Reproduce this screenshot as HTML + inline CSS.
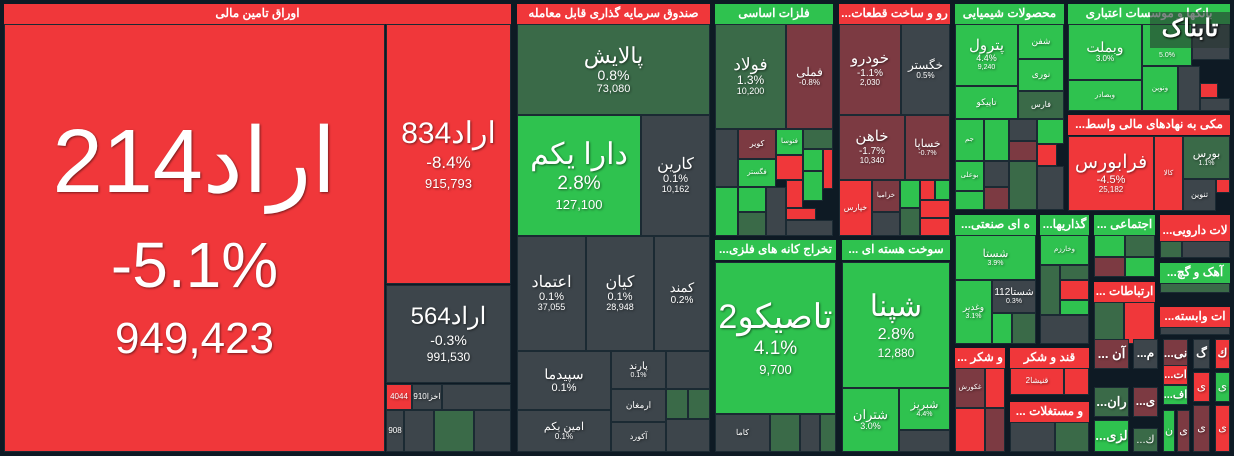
<!DOCTYPE html>
<html><head><meta charset="utf-8"><style>
body{margin:0;width:1234px;height:456px;background:#0e1a24;overflow:hidden;position:relative;font-family:"Liberation Sans","Noto Sans CJK SC",sans-serif}
.t{position:absolute;box-sizing:border-box;border:1px solid #1b2a33;color:#fff;text-align:center;overflow:hidden;display:flex;flex-direction:column;justify-content:center;align-items:center;text-shadow:1px 1px 2px rgba(0,0,0,.5);line-height:1.1}
.h{position:absolute;box-sizing:border-box;color:#fff;font-weight:bold;font-size:12px;text-align:center;line-height:19px;height:20px;white-space:nowrap;overflow:hidden}
.R{background:#f0373a}.G{background:#2fc24f}.D{background:#3a6a48}.K{background:#3d454b}.M{background:#7c3a42}.L{background:#3fa055}
</style></head><body>
<!-- block 1 -->
<div class="h R" style="left:4px;top:4px;width:507px">اوراق تامین مالی</div>
<div class="t R" style="left:4px;top:24px;width:381px;height:428px"><div style="font-size:90px">اراد214</div><div style="font-size:64px;margin-top:18px">-5.1%</div><div style="font-size:44px;margin-top:14px">949,423</div></div>
<div class="t R" style="left:386px;top:24px;width:125px;height:260px"><div style="font-size:30px">اراد834</div><div style="font-size:17px;margin-top:4px">-8.4%</div><div style="font-size:13px;margin-top:4px">915,793</div></div>
<div class="t K" style="left:386px;top:285px;width:125px;height:98px"><div style="font-size:24px">اراد564</div><div style="font-size:14px;margin-top:3px">-0.3%</div><div style="font-size:12px;margin-top:3px">991,530</div></div>
<div class="t R" style="left:386px;top:384px;width:26px;height:26px;font-size:8px">4044</div>
<div class="t K" style="left:412px;top:384px;width:30px;height:26px;font-size:8px">اخزا910</div>
<div class="t K" style="left:442px;top:384px;width:69px;height:26px"></div>
<div class="t K" style="left:386px;top:410px;width:18px;height:42px;font-size:8px">908</div>
<div class="t K" style="left:404px;top:410px;width:30px;height:42px"></div>
<div class="t D" style="left:434px;top:410px;width:40px;height:42px"></div>
<div class="t K" style="left:474px;top:410px;width:37px;height:42px"></div>
<!-- block 2 -->
<div class="h R" style="left:517px;top:4px;width:193px">صندوق سرمایه گذاری قابل معامله</div>
<div class="t D" style="left:517px;top:24px;width:193px;height:91px"><div style="font-size:22px">پالایش</div><div style="font-size:14px">0.8%</div><div style="font-size:11px">73,080</div></div>
<div class="t G" style="left:517px;top:115px;width:124px;height:121px"><div style="font-size:30px">دارا یکم</div><div style="font-size:19px;margin-top:3px">2.8%</div><div style="font-size:13px;margin-top:3px">127,100</div></div>
<div class="t K" style="left:641px;top:115px;width:69px;height:121px"><div style="font-size:16px">کارین</div><div style="font-size:11px">0.1%</div><div style="font-size:9px">10,162</div></div>
<div class="t K" style="left:517px;top:236px;width:69px;height:115px"><div style="font-size:16px">اعتماد</div><div style="font-size:11px">0.1%</div><div style="font-size:9px">37,055</div></div>
<div class="t K" style="left:586px;top:236px;width:68px;height:115px"><div style="font-size:16px">کیان</div><div style="font-size:11px">0.1%</div><div style="font-size:9px">28,948</div></div>
<div class="t K" style="left:654px;top:236px;width:56px;height:115px"><div style="font-size:13px">کمند</div><div style="font-size:10px">0.2%</div></div>
<div class="t K" style="left:517px;top:351px;width:94px;height:59px"><div style="font-size:14px">سپیدما</div><div style="font-size:11px">0.1%</div></div>
<div class="t K" style="left:517px;top:410px;width:94px;height:42px"><div style="font-size:11px">امین یکم</div><div style="font-size:8px">0.1%</div></div>
<div class="t K" style="left:611px;top:351px;width:55px;height:38px;font-size:10px">پارند<br><span style="font-size:7px">0.1%</span></div>
<div class="t K" style="left:611px;top:389px;width:55px;height:33px;font-size:9px">ارمغان</div>
<div class="t K" style="left:611px;top:422px;width:55px;height:30px;font-size:8px">آکورد</div>
<div class="t K" style="left:666px;top:351px;width:44px;height:38px"></div>
<div class="t D" style="left:666px;top:389px;width:22px;height:30px"></div>
<div class="t D" style="left:688px;top:389px;width:22px;height:30px"></div>
<div class="t K" style="left:666px;top:419px;width:44px;height:33px"></div>
<!-- block 3 -->
<div class="h G" style="left:715px;top:4px;width:118px">فلزات اساسی</div>
<div class="t D" style="left:715px;top:24px;width:71px;height:105px"><div style="font-size:17px">فولاد</div><div style="font-size:12px">1.3%</div><div style="font-size:9px">10,200</div></div>
<div class="t M" style="left:786px;top:24px;width:47px;height:105px"><div style="font-size:12px">فملی</div><div style="font-size:8px">-0.8%</div></div>
<div class="t K" style="left:715px;top:129px;width:23px;height:58px"></div>
<div class="t M" style="left:738px;top:129px;width:38px;height:30px;font-size:8px">کویر</div>
<div class="t G" style="left:776px;top:129px;width:27px;height:26px;font-size:7px">فنوسا</div>
<div class="t D" style="left:803px;top:129px;width:30px;height:20px"></div>
<div class="t G" style="left:738px;top:159px;width:38px;height:28px;font-size:7px">فگستر</div>
<div class="t R" style="left:776px;top:155px;width:27px;height:25px"></div>
<div class="t G" style="left:803px;top:149px;width:20px;height:22px"></div>
<div class="t R" style="left:823px;top:149px;width:10px;height:40px"></div>
<div class="t G" style="left:715px;top:187px;width:23px;height:49px"></div>
<div class="t G" style="left:738px;top:187px;width:28px;height:25px"></div>
<div class="t D" style="left:738px;top:212px;width:28px;height:24px"></div>
<div class="t K" style="left:766px;top:187px;width:20px;height:49px"></div>
<div class="t R" style="left:786px;top:180px;width:17px;height:28px"></div>
<div class="t G" style="left:803px;top:171px;width:20px;height:30px"></div>
<div class="t R" style="left:786px;top:208px;width:30px;height:12px"></div>
<div class="t K" style="left:786px;top:220px;width:47px;height:16px"></div>
<!-- block 4 -->
<div class="h R" style="left:839px;top:4px;width:111px">...رو و ساخت قطعات</div>
<div class="t M" style="left:839px;top:24px;width:62px;height:91px"><div style="font-size:15px">خودرو</div><div style="font-size:10px">-1.1%</div><div style="font-size:8px">2,030</div></div>
<div class="t K" style="left:901px;top:24px;width:49px;height:91px"><div style="font-size:12px">خگستر</div><div style="font-size:8px">0.5%</div></div>
<div class="t M" style="left:839px;top:115px;width:66px;height:65px"><div style="font-size:15px">خاهن</div><div style="font-size:10px">-1.7%</div><div style="font-size:8px">10,340</div></div>
<div class="t M" style="left:905px;top:115px;width:45px;height:65px"><div style="font-size:11px">خساپا</div><div style="font-size:7px">-0.7%</div></div>
<div class="t R" style="left:839px;top:180px;width:33px;height:56px;font-size:8px">خپارس</div>
<div class="t M" style="left:872px;top:180px;width:28px;height:32px;font-size:7px">خزامیا</div>
<div class="t K" style="left:872px;top:212px;width:28px;height:24px"></div>
<div class="t G" style="left:900px;top:180px;width:20px;height:28px"></div>
<div class="t R" style="left:920px;top:180px;width:15px;height:20px"></div>
<div class="t G" style="left:935px;top:180px;width:15px;height:20px"></div>
<div class="t R" style="left:920px;top:200px;width:30px;height:18px"></div>
<div class="t D" style="left:900px;top:208px;width:20px;height:28px"></div>
<div class="t R" style="left:920px;top:218px;width:30px;height:18px"></div>
<!-- block 5 -->
<div class="h G" style="left:715px;top:240px;width:121px">...تخراج کانه های فلزی</div>
<div class="t G" style="left:715px;top:262px;width:121px;height:152px"><div style="font-size:34px">تاصیکو2</div><div style="font-size:19px;margin-top:3px">4.1%</div><div style="font-size:13px;margin-top:3px">9,700</div></div>
<div class="t K" style="left:715px;top:414px;width:55px;height:38px;font-size:8px">کاما</div>
<div class="t D" style="left:770px;top:414px;width:30px;height:38px"></div>
<div class="t K" style="left:800px;top:414px;width:20px;height:38px"></div>
<div class="t D" style="left:820px;top:414px;width:16px;height:38px"></div>
<!-- block 6 -->
<div class="h G" style="left:842px;top:240px;width:108px">... سوخت هسته ای</div>
<div class="t G" style="left:842px;top:262px;width:108px;height:126px"><div style="font-size:30px">شپنا</div><div style="font-size:16px;margin-top:3px">2.8%</div><div style="font-size:12px;margin-top:3px">12,880</div></div>
<div class="t G" style="left:842px;top:388px;width:57px;height:64px"><div style="font-size:13px">شتران</div><div style="font-size:9px">3.0%</div></div>
<div class="t G" style="left:899px;top:388px;width:51px;height:42px"><div style="font-size:11px">شبریز</div><div style="font-size:7px">4.4%</div></div>
<div class="t K" style="left:899px;top:430px;width:51px;height:22px"></div>
<!-- chemicals -->
<div class="h G" style="left:955px;top:4px;width:109px">محصولات شیمیایی</div>
<div class="t G" style="left:955px;top:24px;width:63px;height:62px"><div style="font-size:15px">پترول</div><div style="font-size:9px">4.4%</div><div style="font-size:7px">9,240</div></div>
<div class="t G" style="left:1018px;top:24px;width:46px;height:35px;font-size:9px">شفن</div>
<div class="t G" style="left:1018px;top:59px;width:46px;height:32px;font-size:9px">نوری</div>
<div class="t D" style="left:1018px;top:91px;width:46px;height:28px;font-size:8px">فارس</div>
<div class="t G" style="left:955px;top:86px;width:63px;height:33px;font-size:9px">تاپیکو</div>
<div class="t G" style="left:955px;top:119px;width:29px;height:42px;font-size:7px">جم</div>
<div class="t G" style="left:984px;top:119px;width:25px;height:42px"></div>
<div class="t K" style="left:1009px;top:119px;width:28px;height:22px"></div>
<div class="t M" style="left:1009px;top:141px;width:28px;height:20px"></div>
<div class="t G" style="left:1037px;top:119px;width:27px;height:25px"></div>
<div class="t R" style="left:1037px;top:144px;width:20px;height:22px"></div>
<div class="t G" style="left:955px;top:161px;width:29px;height:30px;font-size:7px">بوعلی</div>
<div class="t G" style="left:955px;top:191px;width:29px;height:19px"></div>
<div class="t K" style="left:984px;top:161px;width:25px;height:26px"></div>
<div class="t M" style="left:984px;top:187px;width:25px;height:23px"></div>
<div class="t D" style="left:1009px;top:161px;width:28px;height:49px"></div>
<div class="t K" style="left:1037px;top:166px;width:27px;height:44px"></div>
<!-- banks -->
<div class="h G" style="left:1068px;top:4px;width:162px">بانکها و موسسات اعتباری</div>
<div class="t G" style="left:1068px;top:24px;width:74px;height:56px"><div style="font-size:14px">وبملت</div><div style="font-size:8px">3.0%</div></div>
<div class="t G" style="left:1068px;top:80px;width:74px;height:31px;font-size:7px">وبصادر</div>
<div class="t G" style="left:1142px;top:24px;width:50px;height:42px;font-size:7px"><span style="margin-top:22px">5.0%</span></div>
<div class="t G" style="left:1142px;top:66px;width:36px;height:45px;font-size:7px">ونوین</div>
<div class="t K" style="left:1178px;top:66px;width:22px;height:45px"></div>
<div class="t K" style="left:1192px;top:24px;width:38px;height:36px"></div>
<div class="t R" style="left:1200px;top:83px;width:18px;height:15px"></div>
<div class="t K" style="left:1200px;top:98px;width:30px;height:13px"></div>
<div style="position:absolute;left:1150px;top:12px;width:80px;height:36px;background:rgba(40,55,50,.6);color:#fff;font:bold 24px 'Liberation Serif','Noto Serif CJK SC',serif;text-align:center;line-height:34px;text-shadow:1px 1px 2px #000">تابناک</div>
<!-- vaset -->
<div class="h R" style="left:1068px;top:115px;width:162px">...مکی به نهادهای مالی واسط</div>
<div class="t R" style="left:1068px;top:136px;width:86px;height:75px"><div style="font-size:19px">فرابورس</div><div style="font-size:11px">-4.5%</div><div style="font-size:8px">25,182</div></div>
<div class="t R" style="left:1154px;top:136px;width:29px;height:75px;font-size:7px">کالا</div>
<div class="t D" style="left:1183px;top:136px;width:47px;height:43px"><div style="font-size:11px">بورس</div><div style="font-size:7px">1.1%</div></div>
<div class="t K" style="left:1183px;top:179px;width:33px;height:32px;font-size:8px">تنوین</div>
<div class="t R" style="left:1216px;top:179px;width:14px;height:14px"></div>
<!-- row 2 -->
<div class="h G" style="left:955px;top:215px;width:81px">...ه ای صنعتی</div>
<div class="t G" style="left:955px;top:235px;width:81px;height:45px"><div style="font-size:11px">شستا</div><div style="font-size:7px">3.9%</div></div>
<div class="t G" style="left:955px;top:280px;width:37px;height:64px"><div style="font-size:9px">وغدیر</div><div style="font-size:7px">3.1%</div></div>
<div class="t K" style="left:992px;top:280px;width:44px;height:33px"><div style="font-size:10px">شستا112</div><div style="font-size:7px">0.3%</div></div>
<div class="t G" style="left:992px;top:313px;width:20px;height:31px"></div>
<div class="t D" style="left:1012px;top:313px;width:24px;height:31px"></div>
<div class="h G" style="left:1040px;top:215px;width:49px">...گذاریها</div>
<div class="t G" style="left:1040px;top:235px;width:49px;height:30px;font-size:7px">وخارزم</div>
<div class="t D" style="left:1040px;top:265px;width:20px;height:50px"></div>
<div class="t R" style="left:1060px;top:280px;width:29px;height:20px"></div>
<div class="t D" style="left:1060px;top:265px;width:29px;height:15px"></div>
<div class="t G" style="left:1060px;top:300px;width:29px;height:15px"></div>
<div class="t K" style="left:1040px;top:315px;width:49px;height:29px"></div>
<div class="h G" style="left:1094px;top:215px;width:61px">... اجتماعی</div>
<div class="t G" style="left:1094px;top:235px;width:31px;height:22px"></div>
<div class="t D" style="left:1125px;top:235px;width:30px;height:22px"></div>
<div class="t M" style="left:1094px;top:257px;width:31px;height:20px"></div>
<div class="t G" style="left:1125px;top:257px;width:30px;height:20px"></div>
<div class="h R" style="left:1094px;top:282px;width:61px">... ارتباطات</div>
<div class="t D" style="left:1094px;top:302px;width:30px;height:42px"></div>
<div class="t R" style="left:1124px;top:302px;width:31px;height:42px"></div>
<div class="h R" style="left:1160px;top:215px;width:70px;height:26px;line-height:30px">...لات دارویی</div>
<div class="t D" style="left:1160px;top:241px;width:22px;height:17px"></div>
<div class="t K" style="left:1182px;top:241px;width:48px;height:17px"></div>
<div class="h G" style="left:1160px;top:263px;width:70px">...آهک و گچ</div>
<div class="t D" style="left:1160px;top:283px;width:70px;height:10px"></div>
<div class="h R" style="left:1160px;top:307px;width:70px">...ات وابسته</div>
<div class="t K" style="left:1160px;top:327px;width:70px;height:8px"></div>
<!-- row 3 -->
<div class="h R" style="left:955px;top:348px;width:50px">... و شکر</div>
<div class="t M" style="left:955px;top:368px;width:30px;height:40px;font-size:7px">غکورش</div>
<div class="t R" style="left:985px;top:368px;width:20px;height:40px"></div>
<div class="t R" style="left:955px;top:408px;width:30px;height:44px"></div>
<div class="t M" style="left:985px;top:408px;width:20px;height:44px"></div>
<div class="h R" style="left:1010px;top:348px;width:79px">قند و شکر</div>
<div class="t R" style="left:1010px;top:368px;width:54px;height:27px;font-size:8px">قنیشا2</div>
<div class="t R" style="left:1064px;top:368px;width:25px;height:27px"></div>
<div class="h R" style="left:1010px;top:402px;width:79px">... و مستغلات</div>
<div class="t K" style="left:1010px;top:422px;width:45px;height:30px"></div>
<div class="t D" style="left:1055px;top:422px;width:34px;height:30px"></div>
<div class="t M" style="left:1094px;top:339px;width:35px;height:30px;font-size:13px;font-weight:bold">... آن</div>
<div class="t K" style="left:1133px;top:339px;width:25px;height:30px;font-size:12px;font-weight:bold">...م</div>
<div class="t M" style="left:1163px;top:339px;width:25px;height:30px;font-size:12px;font-weight:bold">...نی</div>
<div class="t K" style="left:1193px;top:339px;width:17px;height:30px;font-size:12px;font-weight:bold">گ</div>
<div class="t R" style="left:1215px;top:339px;width:15px;height:30px;font-size:12px;font-weight:bold">ك</div>
<div class="t D" style="left:1094px;top:387px;width:35px;height:30px;font-size:13px;font-weight:bold">...ران</div>
<div class="t M" style="left:1133px;top:387px;width:25px;height:30px;font-size:12px;font-weight:bold">...ی</div>
<div class="t R" style="left:1163px;top:365px;width:25px;height:20px;font-size:11px;font-weight:bold">...ات</div>
<div class="t G" style="left:1163px;top:385px;width:25px;height:20px;font-size:11px;font-weight:bold">...اف</div>
<div class="t R" style="left:1193px;top:372px;width:17px;height:30px;font-size:12px">ی</div>
<div class="t G" style="left:1215px;top:372px;width:15px;height:30px;font-size:12px">ی</div>
<div class="t G" style="left:1094px;top:420px;width:35px;height:32px;font-size:13px;font-weight:bold">...لزی</div>
<div class="t D" style="left:1133px;top:428px;width:25px;height:24px;font-size:11px">...ك</div>
<div class="t G" style="left:1163px;top:410px;width:12px;height:42px;font-size:11px">ن</div>
<div class="t M" style="left:1177px;top:410px;width:13px;height:42px;font-size:11px">ی</div>
<div class="t M" style="left:1193px;top:405px;width:17px;height:47px;font-size:11px">ی</div>
<div class="t R" style="left:1215px;top:405px;width:15px;height:47px;font-size:11px">ی</div>
</body></html>
